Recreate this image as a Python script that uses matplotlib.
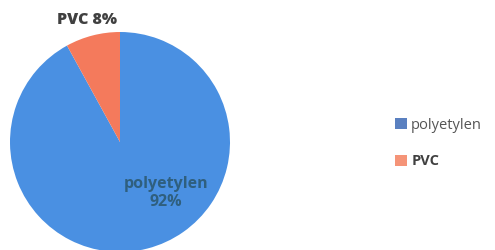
import matplotlib.pyplot as plt
from matplotlib.patches import Patch

# data
labels = ["polyetylen", "PVC"]
shares = [92, 8]
colors = ["#4a90e2", "#f47a5c"]
legend_colors = ["#5a80c0", "#f59478"]

plt.rcParams['font.family'] = ['Open Sans', 'DejaVu Sans']

fig = plt.figure(figsize=(4.95, 2.5), dpi=100)
# pie axes: center about (120, 142) px, radius ~110 px
ax = fig.add_axes([10 / 495, -2 / 250, 220 / 495, 220 / 250])
wedges, _ = ax.pie(shares, colors=colors, startangle=90, counterclock=False,
                   radius=1.0, wedgeprops=dict(linewidth=0))
ax.set_xlim(-1, 1)
ax.set_ylim(-1, 1)
ax.set_aspect('equal')
ax.axis('off')

# data labels
fig.text(87 / 495, 1 - 20 / 250, f"{labels[1]} {shares[1]}%", ha='center', va='center',
         fontsize=11.5, fontweight='heavy', color='#404040')
fig.text(166 / 495, 1 - 193 / 250, f"{labels[0]}\n{shares[0]}%", ha='center', va='center',
         fontsize=11.5, fontweight='bold', color='#2f5f7e', linespacing=1.2)

handles = [Patch(facecolor=c, edgecolor='none') for c in legend_colors]
leg = fig.legend(handles, labels, loc='center left', bbox_to_anchor=(382 / 495, 1 - 143 / 250),
                 frameon=False, handlelength=0.8, handleheight=0.8, handletextpad=0.3,
                 labelspacing=1.5, fontsize=10.5, labelcolor='#555555')
leg.get_texts()[1].set_fontweight('bold')
leg.get_texts()[1].set_color('#404040')

fig.savefig("out.png", dpi=100)
